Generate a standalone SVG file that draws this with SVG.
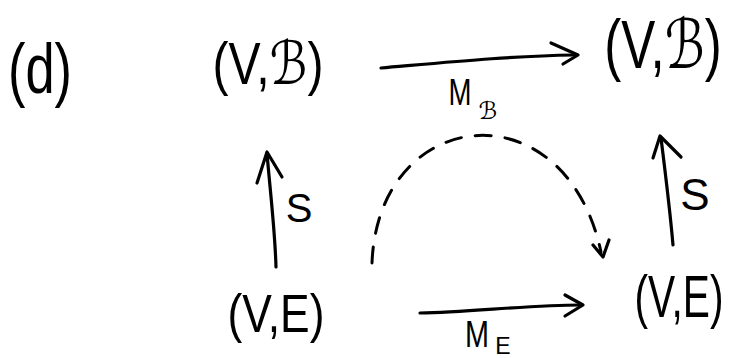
<svg xmlns="http://www.w3.org/2000/svg" width="732" height="358" viewBox="0 0 732 358">
<style>
.t{font-family:"Liberation Sans","DejaVu Sans",sans-serif;fill:#000;text-anchor:middle}
.ln{fill:none;stroke:#000;stroke-width:3.2;stroke-linecap:round;stroke-linejoin:round}
.dash{fill:none;stroke:#000;stroke-width:3;stroke-linecap:round;stroke-dasharray:16 14}
</style>
<rect width="732" height="358" fill="#fff"/>
<g id="label-d"><text class="t" x="40" y="93" font-size="70" textLength="64" lengthAdjust="spacingAndGlyphs">(d)</text></g>
<g id="VB-left"><text class="t" x="268" y="84" font-size="60" textLength="111" lengthAdjust="spacingAndGlyphs">(V,ℬ)</text></g>
<g id="VB-right"><text class="t" transform="translate(663 68) scale(0.75 1)" x="0" y="0" font-size="68">(V,ℬ)</text></g>
<g id="VE-left"><text class="t" x="276" y="332" font-size="53" textLength="97" lengthAdjust="spacingAndGlyphs">(V,E)</text></g>
<g id="VE-right"><text class="t" transform="translate(679 317) scale(0.69 1)" x="0" y="0" font-size="59">(V,E)</text></g>
<g id="connectors">
<path class="ln" d="M381,68 C450,62 510,56 574,55"/>
<path class="ln" d="M551,43 L578,55 L563,64"/>
<path class="ln" d="M420,313 C470,312 530,305 580,305"/>
<path class="ln" d="M565,295 L583,305 L565,316"/>
<path class="ln" d="M276,267 C275,230 270,190 267,153"/>
<path class="ln" d="M257,183 L267,152 L282,177"/>
<path class="ln" d="M673,245 C670,210 665,170 661,138"/>
<path class="ln" d="M653,158 L660,136 L681,157"/>
<path class="dash" d="M372,263 C378,105 565,85 601,252"/>
<path class="ln" d="M593,245 L603,257 L609,240"/>
<text class="t" x="460" y="105" font-size="36" textLength="23" lengthAdjust="spacingAndGlyphs">M</text>
<text class="t" x="488" y="119" font-size="24">ℬ</text>
<text class="t" x="477" y="347" font-size="36" textLength="24" lengthAdjust="spacingAndGlyphs">M</text>
<text class="t" x="503" y="354" font-size="23">E</text>
<text class="t" x="299" y="222" font-size="40">S</text>
<text class="t" x="695" y="210" font-size="44">S</text>
</g>
</svg>
